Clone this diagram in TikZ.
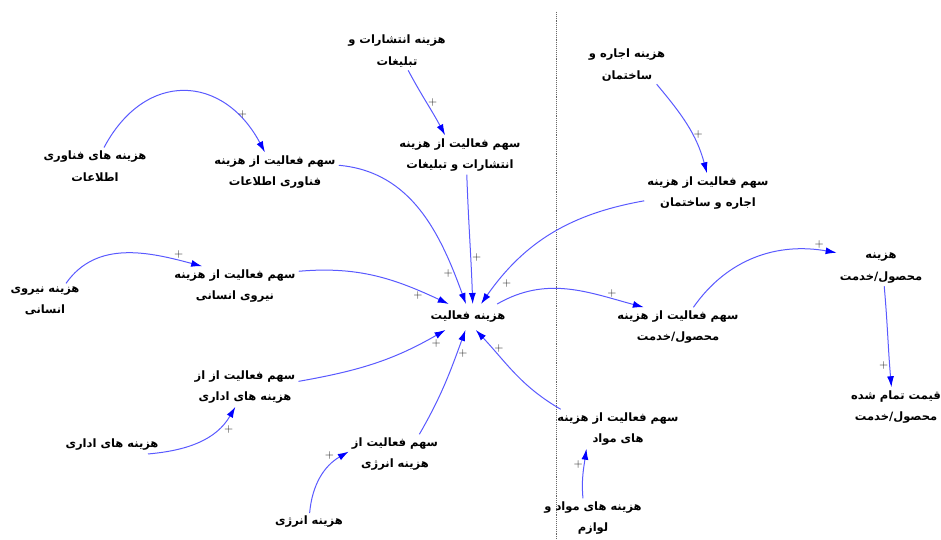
\documentclass[tikz,border=0pt]{standalone}
\usepackage{fontspec}
\usetikzlibrary{arrows.meta}
\newfontfamily\fafont[Script=Arabic]{DejaVu Sans}
\TeXXeTstate=1
\newcommand{\fa}[1]{\beginR #1\endR}
\tikzset {
    lbl/.style={align=center, inner sep=3pt, font=\fafont\bfseries\fontsize{11.5}{21.5}\selectfont},
    hub/.style={lbl, inner xsep=2pt, inner ysep=7pt},
    plus/.style={font=\fontsize{12}{12}\selectfont, text=black!90, inner sep=1pt},
    link/.style={-{Latex[length=11pt,width=7pt,color=blue]}, blue!65, line width=1pt}
}

\begin{document}
\begin{tikzpicture}[x=1pt, y=1pt]
    \useasboundingbox (0,0) rectangle (941,540);
    \draw[densely dotted, black!60, line width=0.9pt] (556,528) -- (556,0);

    \node[lbl] (itc) at (95,374) {\fa{هزینه های فناوری}\\\fa{اطلاعات}};
    \node[lbl] (its) at (275,368) {\fa{سهم فعالیت از هزینه}\\\fa{فناوری اطلاعات}};
    \node[lbl] (adc) at (397,489) {\fa{هزینه انتشارات و}\\\fa{تبلیغات}};
    \node[lbl] (ads) at (460,385) {\fa{سهم فعالیت از هزینه}\\\fa{انتشارات و تبلیغات}};
    \node[lbl] (rentc) at (627,475) {\fa{هزینه اجاره و}\\\fa{ساختمان}};
    \node[lbl] (rents) at (708,347) {\fa{سهم فعالیت از هزینه}\\\fa{اجاره و ساختمان}};
    \node[lbl] (hrc) at (45,239) {\fa{هزینه نیروی}\\\fa{انسانی}};
    \node[lbl] (hrs) at (235,254) {\fa{سهم فعالیت از هزینه}\\\fa{نیروی انسانی}};
    \node[hub] (act) at (468,223) {\fa{هزینه فعالیت}};
    \node[lbl] (prods) at (678,213) {\fa{سهم فعالیت از هزینه}\\\fa{محصول/خدمت}};
    \node[lbl] (prodc) at (881,272) {\fa{هزینه}\\\fa{محصول/خدمت}};
    \node[lbl] (price) at (896,133) {\fa{قیمت تمام شده}\\\fa{محصول/خدمت}};
    \node[lbl] (adms) at (245,153) {\fa{سهم فعالیت از از}\\\fa{هزینه های اداری}};
    \node[lbl] (admc) at (112,95) {\fa{هزینه های اداری}};
    \node[lbl] (ens) at (395,86) {\fa{سهم فعالیت از}\\\fa{هزینه انرژی}};
    \node[lbl] (enc) at (309,18) {\fa{هزینه انرژی}};
    \node[lbl] (mats) at (618,111) {\fa{سهم فعالیت از هزینه}\\\fa{های مواد}};
    \node[lbl] (matc) at (593,22) {\fa{هزینه های مواد و}\\\fa{لوازم}};

    \path[link]
    (itc.64) edge[out=62, in=118, looseness=1.4] node[plus, pos=0.8, right] {+} (its.117)
    (adc.300) edge[out=-62, in=118] node[plus, pos=0.5, right] {+} (ads.127)
    (rentc.327) edge[out=-50, in=105] node[plus, pos=0.6, right] {+} (rents.93)
    (hrc.40) edge[out=55, in=165] node[plus, pos=0.85, above] {+} (hrs.149)
    (admc.346) edge[out=5, in=240] node[plus, pos=0.8, below right] {+} (adms.244)
    (enc.86) edge[out=85, in=210] node[plus, pos=0.8, above left] {+} (ens.177)
    (matc.117) edge[out=95, in=262] node[plus, pos=0.7, left] {+} (mats.212)
    (prodc.280) edge[out=-85, in=95] node[plus, pos=0.8, left] {+} (price.103)
    (prods.52) edge[out=55, in=170] node[plus, pos=0.9, above] {+} (prodc.161)
    (its.6) edge[out=-5, in=110] node[plus, pos=0.85, left] {+} (act.99)
    (ads.289) edge[out=-88, in=92] node[plus, pos=0.65, right] {+} (act.70)
    (rents.187) edge[out=190, in=55] node[plus, pos=0.85, below right] {+} (act.45)
    (hrs.13) edge[out=5, in=155] node[plus, pos=0.8, below] {+} (act.146)
    (adms.6) edge[out=10, in=210] node[plus, pos=0.9, below right] {+} (act.210)
    (ens.39) edge[out=60, in=250] node[plus, pos=0.8, right] {+} (act.259)
    (mats.161) edge[out=150, in=313] node[plus, pos=0.8, right] {+} (act.301)
    (act.24) edge[out=30, in=165] node[plus, pos=0.8, above] {+} (prods.150);
\end{tikzpicture}
\end{document}
